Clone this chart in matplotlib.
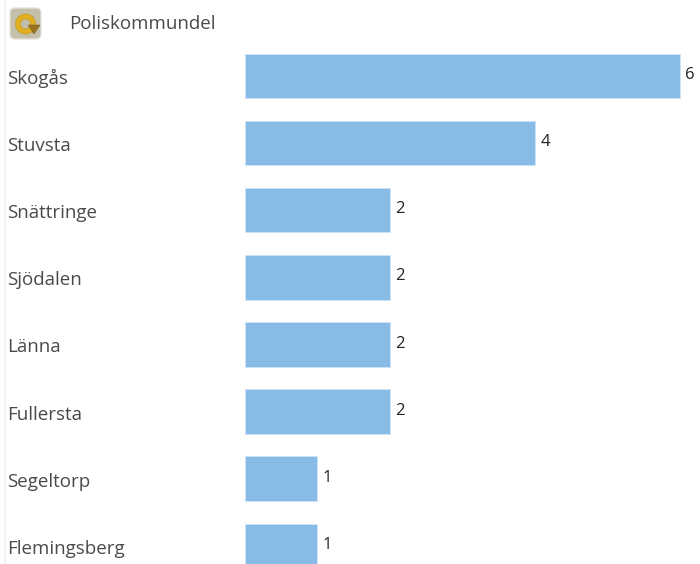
import matplotlib
matplotlib.use("Agg")
import matplotlib.pyplot as plt
from matplotlib.patches import FancyBboxPatch, Wedge, Polygon

categories = ["Skogås", "Stuvsta", "Snättringe", "Sjödalen", "Länna", "Fullersta", "Segeltorp", "Flemingsberg"]
values = [6, 4, 2, 2, 2, 2, 1, 1]
title = "Poliskommundel"

W, H = 700, 564
plt.rcParams["font.family"] = ["Open Sans", "DejaVu Sans"]
fig = plt.figure(figsize=(W / 100, H / 100), dpi=100)
ax = fig.add_axes([0, 0, 1, 1])

PX_UNIT = 72.5
X0 = 244.6
PITCH = 67.15
Y0 = 75.8
ax.set_xlim(-X0 / PX_UNIT, (W - X0) / PX_UNIT)
ax.set_ylim((H - Y0) / PITCH, -Y0 / PITCH)
ax.axis("off")

ypos = list(range(len(categories)))
ax.barh(ypos, values, height=44.5 / PITCH, color="#88BBE6", edgecolor="#CFE4F6", linewidth=0.6)

FS = 13.5
for y, cat, v in zip(ypos, categories, values):
    ax.text(7.5, H - (Y0 + PITCH * y + 3), cat, transform=None, fontsize=FS, color="#4a4a4a",
            ha="left", va="center")
    ax.annotate(str(v), (v, y), xytext=(4.2, 0.6), textcoords="offset points", fontsize=12,
                color="#222222", ha="left", va="center")

fig.text(69.5 / W, 1 - 24 / H, title, fontsize=FS, color="#4a4a4a", ha="left", va="center")

# faint frame line on the left
fig.add_artist(plt.Line2D([5 / W, 5 / W], [0, 1], color="#F0F0F0", lw=1.2))

# refresh icon
iax = fig.add_axes([9 / W, 1 - 41 / H, 34 / W, 34 / H])
iax.set_xlim(0, 34)
iax.set_ylim(34, 0)
iax.axis("off")
iax.add_patch(FancyBboxPatch((1, 1), 31, 31, boxstyle="round,pad=0,rounding_size=5",
                             fc="#C4BFA8", ec="#E2E2DC", lw=1))
iax.add_patch(Wedge((16.5, 17), 10, 0, 360, width=5, fc="#E0B020", ec="#C09010", lw=0.4))
iax.add_patch(Polygon([[19, 18], [31, 18], [25, 27]], fc="#9A7420", ec="#6f5518", lw=0.3))

fig.savefig("out.png", dpi=100, facecolor="white")
